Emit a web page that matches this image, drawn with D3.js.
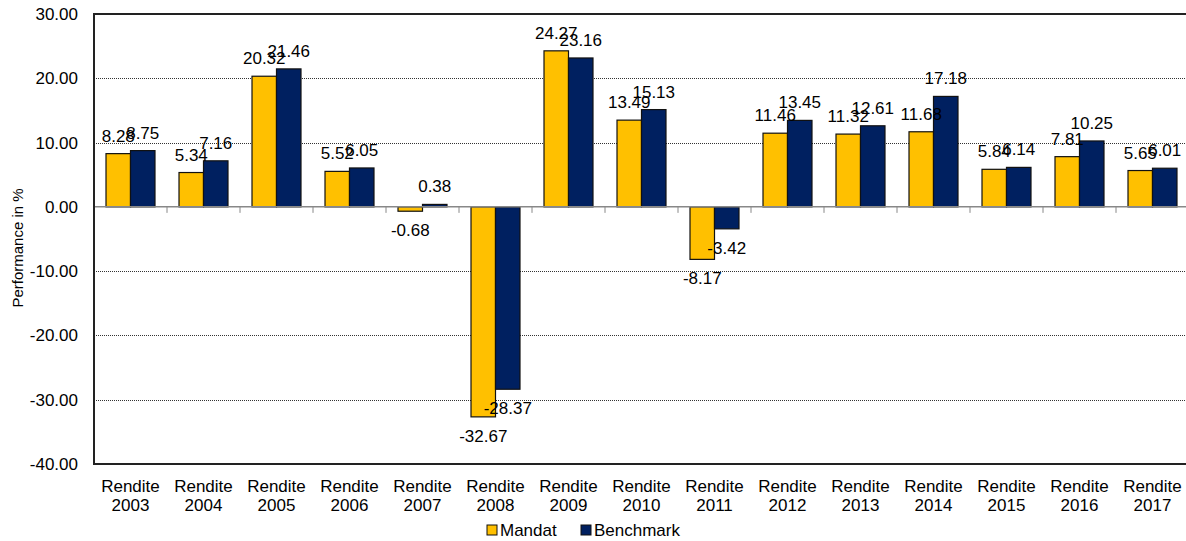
<!DOCTYPE html>
<html>
<head>
<meta charset="utf-8">
<script src="https://cdn.jsdelivr.net/npm/d3@7"></script>
<style>
  body { margin: 0; background: #fff; }
  text { font-family: "Liberation Sans", Arial, sans-serif; fill: #000; }
</style>
</head>
<body>
<div id="js-svg-container"></div>
<script>
let years = ['2003', '2004', '2005', '2006', '2007', '2008', '2009', '2010', '2011', '2012', '2013', '2014', '2015', '2016', '2017'];
let seriesNames = ['Mandat', 'Benchmark'];
let mandat = [8.28, 5.34, 20.32, 5.52, -0.68, -32.67, 24.27, 13.49, -8.17, 11.46, 11.32, 11.68, 5.84, 7.81, 5.65];
let benchmark = [8.75, 7.16, 21.46, 6.05, 0.38, -28.37, 23.16, 15.13, -3.42, 13.45, 12.61, 17.18, 6.14, 10.25, 6.01];
let yTicks = [-40, -30, -20, -10, 0, 10, 20, 30];

let colors = { Mandat: '#FFC000', Benchmark: '#002060' };

let width = 1186, height = 541;
let margin = { top: 14, left: 94, bottom: 77 };
let plotRight = 94 + 15 * 73;

// hyphen instead of unicode minus, like the original
let fmt = d3.formatLocale({ decimal: '.', thousands: ',', grouping: [3], currency: ['', ''], minus: '-' }).format('.2f');

let svg = d3.select('#js-svg-container')
    .append('svg')
    .attr('width', width)
    .attr('height', height);

let x = d3.scaleBand()
    .domain(years)
    .range([margin.left, plotRight])
    .padding(0);

let x1 = d3.scaleBand()
    .domain(seriesNames)
    .range([0, x.bandwidth()])
    .paddingInner(0)
    .paddingOuter(0.49);

let y = d3.scaleLinear()
    .domain([-40, 30])
    .range([height - margin.bottom, margin.top]);

// gridlines
svg.append('g')
    .selectAll('line')
    .data(yTicks.filter(d => d !== 0 && d !== 30 && d !== -40))
    .enter()
    .append('line')
    .attr('x1', margin.left)
    .attr('x2', plotRight)
    .attr('y1', d => Math.round(y(d)) + 0.5)
    .attr('y2', d => Math.round(y(d)) + 0.5)
    .attr('stroke', '#333')
    .attr('stroke-width', 1)
    .attr('stroke-dasharray', '1,1');

// y axis labels
let axisY = svg.append('g')
    .attr('transform', 'translate(' + margin.left + ',0)')
    .call(d3.axisLeft(y).tickValues(yTicks).tickFormat(fmt).tickSize(0).tickPadding(16));
axisY.select('.domain').remove();
axisY.selectAll('text')
    .style('font-size', '17px')
    .style('font-family', '"Liberation Sans", Arial, sans-serif');

// y title
svg.append('text')
    .attr('transform', 'translate(23,' + (margin.top + 234) + ') rotate(-90)')
    .attr('text-anchor', 'middle')
    .style('font-size', '15px')
    .text('Performance in %');

let data = years.map((yr, i) => ({ year: yr, Mandat: mandat[i], Benchmark: benchmark[i] }));

let groups = svg.selectAll('g.cat')
    .data(data)
    .enter()
    .append('g')
    .attr('class', 'cat')
    .attr('transform', d => 'translate(' + x(d.year) + ',0)');

let bars = groups.selectAll('rect')
    .data(d => seriesNames.map(s => ({ key: s, value: d[s] })))
    .enter()
    .append('rect')
    .attr('x', d => x1(d.key))
    .attr('width', x1.bandwidth())
    .attr('y', d => Math.min(y(d.value), y(0)))
    .attr('height', d => Math.abs(y(d.value) - y(0)))
    .attr('fill', d => colors[d.key])
    .attr('stroke', '#111')
    .attr('stroke-width', 1.2);

// zero axis with tick marks at category boundaries
svg.append('line')
    .attr('x1', margin.left)
    .attr('x2', plotRight)
    .attr('y1', y(0))
    .attr('y2', y(0))
    .attr('stroke', '#888')
    .attr('stroke-width', 1.5);

svg.append('g')
    .selectAll('line')
    .data(years)
    .enter()
    .append('line')
    .attr('x1', d => x(d) + x.bandwidth())
    .attr('x2', d => x(d) + x.bandwidth())
    .attr('y1', y(0))
    .attr('y2', y(0) + 6)
    .attr('stroke', '#888')
    .attr('stroke-width', 1);

// frame
svg.append('path')
    .attr('d', 'M' + plotRight + ',' + margin.top + 'H' + margin.left + 'V' + y(-40) + 'H' + plotRight)
    .attr('fill', 'none')
    .attr('stroke', '#222')
    .attr('stroke-width', 2);

// value labels
groups.selectAll('text.val')
    .data(d => seriesNames.map(s => ({ key: s, value: d[s] })))
    .enter()
    .append('text')
    .attr('class', 'val')
    .attr('x', d => x1(d.key) + x1.bandwidth() / 2)
    .attr('y', d => d.value >= 0 ? y(d.value) - 12 : y(d.value) + 25)
    .attr('text-anchor', 'middle')
    .style('font-size', '17px')
    .text(d => fmt(d.value));

// x labels
let xl = svg.append('g')
    .selectAll('text')
    .data(years)
    .enter()
    .append('text')
    .attr('x', d => x(d) + x.bandwidth() / 2)
    .attr('y', 492)
    .attr('text-anchor', 'middle')
    .style('font-size', '17px');
xl.append('tspan').attr('x', d => x(d) + x.bandwidth() / 2).text('Rendite');
xl.append('tspan').attr('x', d => x(d) + x.bandwidth() / 2).attr('dy', 19).text(d => d);

// legend
let legend = svg.append('g');
let legendX = [487, 581];
seriesNames.forEach((s, i) => {
    legend.append('rect')
        .attr('x', legendX[i])
        .attr('y', 525)
        .attr('width', 10)
        .attr('height', 10)
        .attr('fill', colors[s])
        .attr('stroke', '#111')
        .attr('stroke-width', 1);
    legend.append('text')
        .attr('x', legendX[i] + 13)
        .attr('y', 536)
        .style('font-size', '17px')
        .text(s);
});
</script>
</body>
</html>
